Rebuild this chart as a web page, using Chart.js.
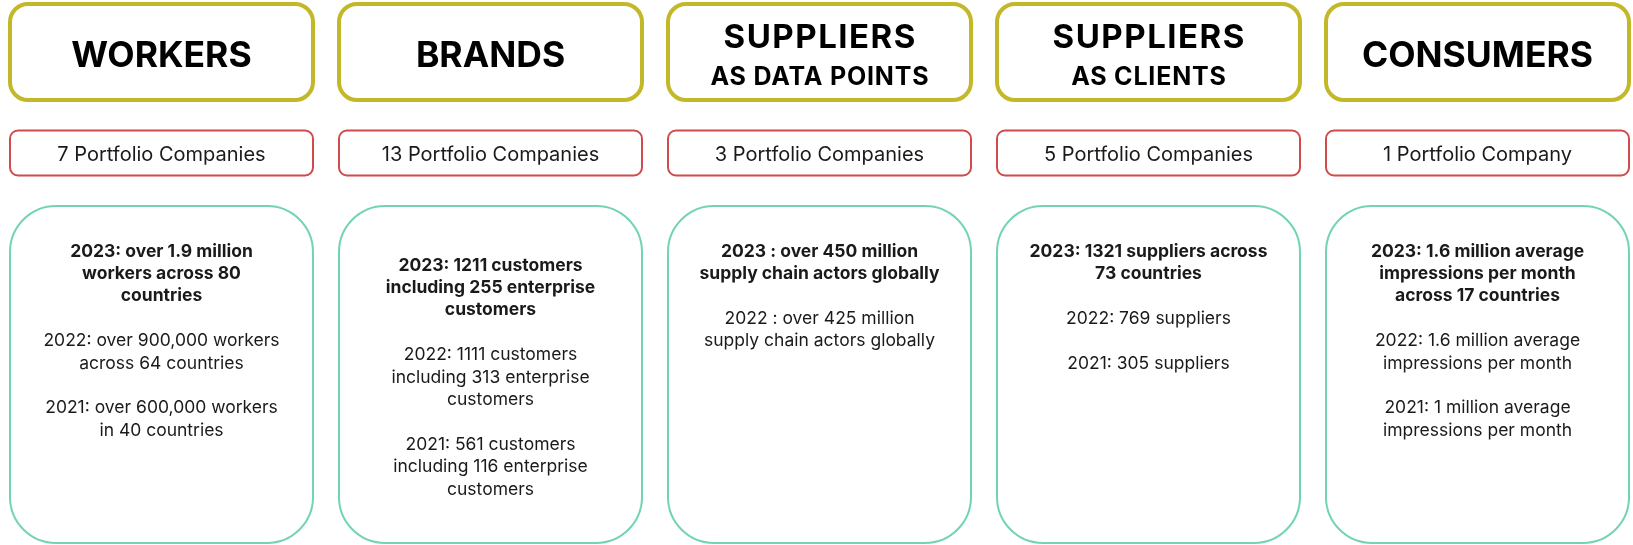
<!DOCTYPE html>
<html>
<head>
<meta charset="utf-8">
<script src="https://cdn.jsdelivr.net/npm/chart.js@4"></script>
<style>
  html, body { margin: 0; padding: 0; background: #fff; }
  #wrap { position: relative; width: 1633px; height: 545px; }
</style>
</head>
<body>
<div id="wrap"><canvas id="board" width="1633" height="545"></canvas></div>
<script>
// Sectors and their figures
const sectors = ['WORKERS', 'BRANDS', 'SUPPLIERS', 'SUPPLIERS', 'CONSUMERS'];
const sectorSubtitles = ['', '', 'AS DATA POINTS', 'AS CLIENTS', ''];
const portfolioCounts = [7, 13, 3, 5, 1];

const figures2023 = [
  ['2023: over 1.9 million', 'workers across 80', 'countries'],
  ['2023: 1211 customers', 'including 255 enterprise', 'customers'],
  ['2023 : over 450 million', 'supply chain actors globally'],
  ['2023: 1321 suppliers across', '73 countries'],
  ['2023: 1.6 million average', 'impressions per month', 'across 17 countries']
];
const figures2022 = [
  ['2022: over 900,000 workers', 'across 64 countries'],
  ['2022: 1111 customers', 'including 313 enterprise', 'customers'],
  ['2022 : over 425 million', 'supply chain actors globally'],
  ['2022: 769 suppliers'],
  ['2022: 1.6 million average', 'impressions per month']
];
const figures2021 = [
  ['2021: over 600,000 workers', 'in 40 countries'],
  ['2021: 561 customers', 'including 116 enterprise', 'customers'],
  [],
  ['2021: 305 suppliers'],
  ['2021: 1 million average', 'impressions per month']
];

// Layout (pixels)
const COL_LEFT = 10;
const COL_STEP = 329;
const BOX_W = 303;
const HEAD_ROW = [4, 100];
const COUNT_ROW = [130.5, 175.5];
const BODY_ROW = [206, 543];
const BODY_BASELINE = [256.5, 270.5, 256.5, 256.5, 256.5];
const LINE_H = 22.4;
const PARA_GAP = 22.4;

const FONT = 'Inter, Lato, sans-serif';

function roundBox(ctx, x, y, w, h, r, color, lw) {
  ctx.save();
  ctx.beginPath();
  ctx.roundRect(x, y, w, h, r);
  ctx.fillStyle = '#fff';
  ctx.fill();
  ctx.lineWidth = lw;
  ctx.strokeStyle = color;
  ctx.stroke();
  ctx.restore();
}

function centerText(ctx, text, x, y, font, color, spacing = 0) {
  ctx.save();
  ctx.font = font;
  ctx.fillStyle = color;
  ctx.textAlign = 'center';
  ctx.textBaseline = 'alphabetic';
  ctx.letterSpacing = spacing + 'px';
  // letterSpacing also pads after the last glyph, so nudge back by half of it
  ctx.fillText(text, x + spacing / 2, y);
  ctx.restore();
}

const infographic = {
  id: 'infographic',
  afterDraw(chart) {
    const { ctx, scales: { x, y } } = chart;

    sectors.forEach((name, i) => {
      const cx = x.getPixelForValue(i);
      const left = cx - BOX_W / 2;

      // Sector header
      const hTop = y.getPixelForValue(HEAD_ROW[0]);
      const hBot = y.getPixelForValue(HEAD_ROW[1]);
      roundBox(ctx, left, hTop, BOX_W, hBot - hTop, 18, '#c3b82a', 4);
      if (sectorSubtitles[i]) {
        centerText(ctx, name, cx, hTop + 44, `bold 33px ${FONT}`, '#000', 1.5);
        centerText(ctx, sectorSubtitles[i], cx, hTop + 80.5, `bold 25px ${FONT}`, '#000', 0.8);
      } else {
        centerText(ctx, name, cx, hTop + 62.7, `bold 35.5px ${FONT}`, '#000');
      }

      // Portfolio company count
      const cTop = y.getPixelForValue(COUNT_ROW[0]);
      const cBot = y.getPixelForValue(COUNT_ROW[1]);
      roundBox(ctx, left, cTop, BOX_W, cBot - cTop, 8, '#d04b4b', 2);
      const n = portfolioCounts[i];
      const countLabel = `${n} Portfolio ${n === 1 ? 'Company' : 'Companies'}`;
      centerText(ctx, countLabel, cx, cTop + 30.2, `20px ${FONT}`, '#1a1a1a');

      // Yearly figures
      const bTop = y.getPixelForValue(BODY_ROW[0]);
      const bBot = y.getPixelForValue(BODY_ROW[1]);
      roundBox(ctx, left, bTop, BOX_W, bBot - bTop, 46, '#72d3b5', 2);

      let ty = y.getPixelForValue(BODY_BASELINE[i]);
      const paragraphs = [
        { lines: figures2023[i], bold: true },
        { lines: figures2022[i], bold: false },
        { lines: figures2021[i], bold: false }
      ];
      paragraphs.forEach(p => {
        if (!p.lines.length) return;
        p.lines.forEach(line => {
          centerText(ctx, line, cx, ty, `${p.bold ? 'bold ' : ''}17.5px ${FONT}`, '#1a1a1a');
          ty += LINE_H;
        });
        ty += PARA_GAP;
      });
    });
  }
};

const xMin = -(COL_LEFT + BOX_W / 2) / COL_STEP;
const xMax = xMin + 1633 / COL_STEP;

new Chart(document.getElementById('board'), {
  type: 'scatter',
  data: {
    datasets: [{
      data: sectors.map((s, i) => ({ x: i, y: 0 })),
      pointRadius: 0
    }]
  },
  options: {
    responsive: false,
    devicePixelRatio: 1,
    animation: false,
    events: [],
    layout: { padding: 0 },
    scales: {
      x: { type: 'linear', display: false, min: xMin, max: xMax },
      y: { type: 'linear', display: false, min: 0, max: 545, reverse: true }
    },
    plugins: {
      legend: { display: false },
      tooltip: { enabled: false }
    }
  },
  plugins: [infographic]
});
</script>
</body>
</html>
